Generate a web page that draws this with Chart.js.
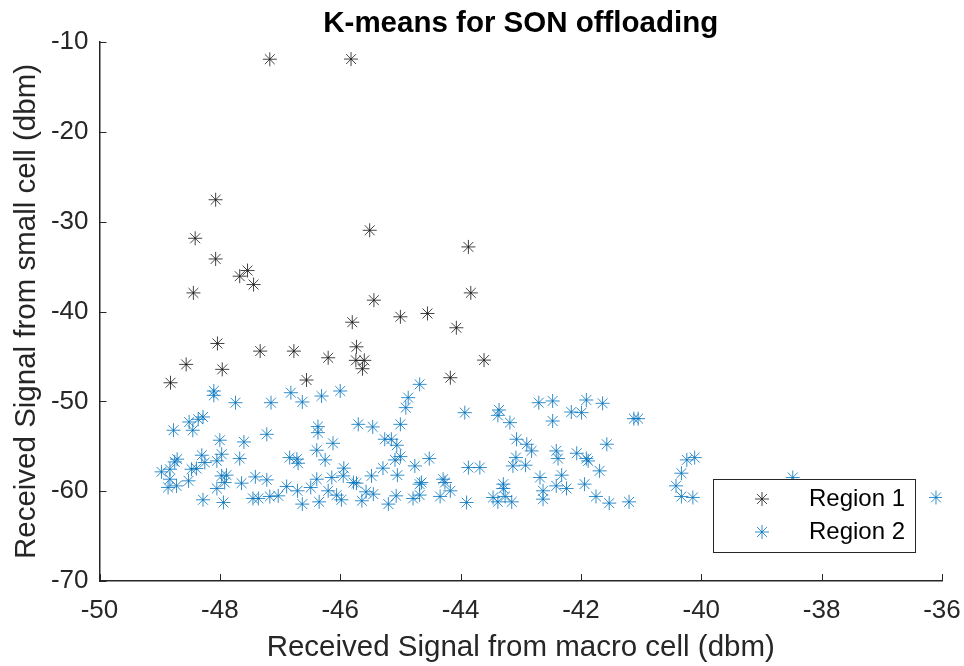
<!DOCTYPE html>
<html>
<head>
<meta charset="utf-8">
<title>K-means for SON offloading</title>
<script src="https://cdn.jsdelivr.net/npm/chart.js@4.4.1/dist/chart.umd.min.js"></script>
<style>
  html, body { margin: 0; padding: 0; background: #fff; }
  #wrap { width: 964px; height: 666px; }
</style>
</head>
<body>
<div id="wrap"><canvas id="kmeansChart" width="964" height="666"></canvas></div>
<script>
// Region 1: users with strong small-cell signal
var region1X = [-47.17, -45.82, -48.07, -45.51, -48.41, -48.07, -47.67, -47.54, -47.44, -48.44,
                -45.44, -45.80, -48.04, -47.33, -46.77, -45.73, -46.20, -45.74, -45.60, -45.63,
                -48.56, -47.96, -46.56, -48.82, -43.87, -43.83, -45.00, -44.55, -44.07, -43.61,
                -44.17];
var region1Y = [-11.92, -11.90, -27.56, -30.96, -31.85, -34.15, -36.07, -35.44, -37.00, -37.93,
                -38.74, -41.19, -43.56, -44.41, -44.41, -43.93, -45.15, -45.44, -45.44, -46.37,
                -45.89, -46.44, -47.63, -47.93, -32.81, -37.93, -40.59, -40.22, -41.81, -45.41,
                -47.37];

// Region 2: users that stay on the macro cell
var region2X = [-48.10, -48.10, -47.74, -47.15, -46.82, -46.63, -46.31, -46.00, -48.28, -48.36,
                -48.51, -48.45, -48.77, -47.22, -48.00, -47.60, -46.37, -46.37, -46.12, -45.70,
                -45.46, -45.26, -48.71, -48.75, -48.30, -48.25, -47.97, -48.05, -47.67, -48.97,
                -48.83, -48.83, -48.47, -48.39, -48.52, -48.86, -48.72, -47.97, -47.89, -47.92,
                -48.05, -47.64, -47.41, -47.22, -48.28, -47.94, -47.45, -47.36, -47.17, -47.03,
                -46.89, -46.84, -46.72, -46.70, -46.39, -46.25, -46.71, -46.49, -46.39, -46.63,
                -46.35, -46.14, -45.94, -45.95, -46.20, -46.06, -45.98, -45.78, -45.73, -45.48,
                -45.29, -45.57, -45.45, -45.64, -45.20,
                -44.68, -44.87, -44.91, -45.00, -43.93, -43.36, -43.38, -43.18, -42.70, -42.47,
                -42.47, -42.16, -41.99, -41.91, -41.64, -41.12, -41.05, -45.15, -45.06, -45.00,
                -45.09, -44.76, -44.52, -45.05, -44.65, -44.68, -44.29, -44.26, -44.17, -43.87,
                -43.68, -43.07, -42.90, -42.82, -42.41, -42.38, -43.08, -43.13, -42.92, -42.07,
                -41.91, -41.88, -41.57, -41.69, -42.68, -42.32, -42.41, -42.24, -42.63, -42.63,
                -41.94, -41.75, -41.53, -41.20, -43.29, -43.29, -43.46, -43.26, -43.15, -43.38,
                -43.90, -44.34, -44.68, -44.79, -45.07,
                -40.11, -40.24, -40.33, -40.42, -40.33, -40.14, -38.48, -36.10];
var region2Y = [-48.85, -49.33, -50.15, -50.15, -49.04, -50.07, -49.41, -48.85, -51.74, -52.00,
                -52.30, -53.22, -53.22, -53.67, -54.33, -54.52, -52.81, -53.48, -54.67, -52.56,
                -52.85, -54.22, -56.44, -56.74, -56.00, -56.81, -55.89, -56.63, -56.37, -57.85,
                -57.56, -58.67, -57.56, -57.48, -58.85, -59.59, -59.41, -58.30, -58.22, -59.04,
                -59.70, -59.11, -58.41, -58.74, -60.96, -61.26, -60.81, -60.81, -60.59, -60.52,
                -59.48, -56.26, -56.44, -56.89, -55.44, -56.52, -59.96, -59.59, -58.67, -61.44,
                -61.19, -58.48, -57.44, -58.30, -59.96, -60.44, -60.96, -59.04, -59.11, -58.30,
                -57.44, -60.07, -60.33, -61.07, -61.44,
                -48.11, -49.59, -50.70, -52.56, -51.26, -50.96, -51.56, -52.37, -50.15, -49.96,
                -52.19, -51.19, -51.26, -49.85, -50.22, -51.93, -51.93, -54.22, -54.89, -56.15,
                -56.52, -57.19, -56.37, -58.22, -59.04, -59.22, -58.67, -59.04, -59.96, -57.37,
                -57.37, -54.22, -54.78, -55.52, -55.52, -56.37, -56.26, -57.19, -57.11, -55.78,
                -56.37, -56.63, -54.78, -57.74, -58.48, -58.22, -59.41, -59.70, -59.96, -60.89,
                -59.22, -60.59, -61.33, -61.19, -59.22, -59.70, -60.70, -60.59, -61.19, -61.19,
                -61.26, -60.59, -60.44, -60.81, -60.52,
                -56.26, -56.52, -58.00, -59.41, -60.59, -60.70, -58.48, -60.70];

var xTicks = [-50, -48, -46, -44, -42, -40, -38, -36];
var yTicks = [-70, -60, -50, -40, -30, -20, -10];

var fontFamily = '"Liberation Sans", Arial, Helvetica, sans-serif';
var axisColor = '#262626';

function toPoints(xs, ys) {
    return xs.map(function (x, i) { return { x: x, y: ys[i] }; });
}

// title centred over the plot area rather than the whole canvas
var plotTitle = {
    id: 'plotTitle',
    afterDraw: function (chart, args, opts) {
        var ctx = chart.ctx;
        var area = chart.chartArea;
        ctx.save();
        ctx.fillStyle = '#000';
        ctx.font = 'bold ' + opts.size + 'px ' + fontFamily;
        ctx.textAlign = 'center';
        ctx.textBaseline = 'middle';
        ctx.fillText(opts.text, (area.left + area.right) / 2, opts.y);
        ctx.restore();
    }
};

// MATLAB style ticks: short marks pointing into the plot
var innerTicks = {
    id: 'innerTicks',
    afterDraw: function (chart) {
        var ctx = chart.ctx;
        var area = chart.chartArea;
        var xs = chart.scales.x;
        var ys = chart.scales.y;
        ctx.save();
        ctx.strokeStyle = axisColor;
        ctx.lineWidth = 1;
        ctx.beginPath();
        xs.ticks.forEach(function (t) {
            var px = Math.round(xs.getPixelForValue(t.value)) + 0.5;
            ctx.moveTo(px, area.bottom);
            ctx.lineTo(px, area.bottom - 7);
        });
        ys.ticks.forEach(function (t) {
            var py = Math.round(ys.getPixelForValue(t.value)) + 0.5;
            ctx.moveTo(area.left, py);
            ctx.lineTo(area.left + 7, py);
        });
        ctx.stroke();
        ctx.restore();
    }
};

// Boxed legend in the lower right corner of the plot
var boxLegend = {
    id: 'boxLegend',
    afterDraw: function (chart) {
        var ctx = chart.ctx;
        var area = chart.chartArea;
        var w = 202, h = 73;
        var left = Math.round(area.right - 27 - w);
        var top = Math.round(area.bottom - 29 - h);
        ctx.save();
        ctx.fillStyle = '#fff';
        ctx.fillRect(left, top, w, h);
        ctx.strokeStyle = axisColor;
        ctx.lineWidth = 1;
        ctx.strokeRect(left + 0.5, top + 0.5, w, h);
        chart.data.datasets.forEach(function (ds, i) {
            var cy = top + 20 + i * 33;
            ctx.strokeStyle = ds.pointBorderColor;
            ctx.fillStyle = ds.pointBorderColor;
            ctx.lineWidth = ds.pointBorderWidth;
            Chart.helpers.drawPoint(ctx, { pointStyle: 'star', radius: 7, borderWidth: ds.pointBorderWidth }, left + 49, cy);
            ctx.fillStyle = '#000';
            ctx.font = '24px ' + fontFamily;
            ctx.textAlign = 'left';
            ctx.textBaseline = 'middle';
            ctx.fillText(ds.label, left + 96, cy);
        });
        ctx.restore();
    }
};

var ctx = document.getElementById('kmeansChart').getContext('2d');
var kmeansChart = new Chart(ctx, {
    type: 'scatter',
    data: {
        datasets: [{
            label: 'Region 1',
            data: toPoints(region1X, region1Y),
            pointStyle: 'star',
            pointRadius: 7,
            pointBorderWidth: 1,
            pointBorderColor: 'rgba(20, 20, 20, 0.8)',
            borderColor: 'rgba(20, 20, 20, 0.8)',
            backgroundColor: 'rgba(20, 20, 20, 0.8)'
        }, {
            label: 'Region 2',
            data: toPoints(region2X, region2Y),
            pointStyle: 'star',
            pointRadius: 7,
            pointBorderWidth: 1,
            pointBorderColor: 'rgba(0, 114, 189, 0.8)',
            borderColor: 'rgba(0, 114, 189, 0.8)',
            backgroundColor: 'rgba(0, 114, 189, 0.8)'
        }]
    },
    options: {
        responsive: false,
        animation: false,
        events: [],
        layout: { padding: { left: 0, right: 22, top: 42, bottom: 0 } },
        plugins: {
            legend: { display: false },
            tooltip: { enabled: false },
            title: { display: false },
            plotTitle: { text: 'K-means for SON offloading', size: 29.5, y: 24 }
        },
        scales: {
            x: {
                type: 'linear',
                min: -50,
                max: -36,
                afterBuildTicks: function (scale) {
                    scale.ticks = xTicks.map(function (v) { return { value: v }; });
                },
                afterFit: function (scale) { scale.height = 85; },
                grid: { display: false, drawTicks: true, tickLength: 11 },
                border: { display: true, color: axisColor, width: 1.5 },
                ticks: {
                    color: axisColor,
                    font: { family: fontFamily, size: 26 },
                    padding: 3,
                    maxRotation: 0
                },
                title: {
                    display: true,
                    text: 'Received Signal from macro cell (dbm)',
                    color: axisColor,
                    font: { family: fontFamily, size: 29.5 },
                    padding: { top: 0, bottom: 0 }
                }
            },
            y: {
                type: 'linear',
                min: -70,
                max: -10,
                afterBuildTicks: function (scale) {
                    scale.ticks = yTicks.map(function (v) { return { value: v }; });
                },
                afterFit: function (scale) { scale.width = 99.5; },
                grid: { display: false, drawTicks: false },
                border: { display: true, color: axisColor, width: 1.5 },
                ticks: {
                    color: axisColor,
                    font: { family: fontFamily, size: 26 },
                    padding: 11
                },
                title: {
                    display: true,
                    text: 'Received Signal from small cell (dbm)',
                    color: axisColor,
                    font: { family: fontFamily, size: 29.5 },
                    padding: { top: 9, bottom: 0 }
                }
            }
        }
    },
    plugins: [innerTicks, boxLegend, plotTitle]
});
</script>
</body>
</html>
